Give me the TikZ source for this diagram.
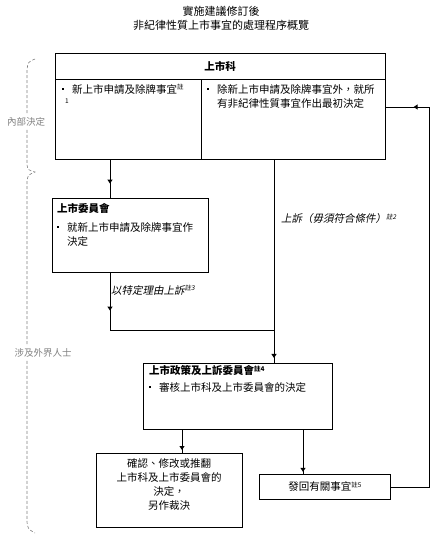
\documentclass[tikz,border=0pt]{standalone}
\usepackage{fontspec}
\setmainfont{Noto Sans CJK TC}
\newfontfamily\slantfont[FakeSlant=0.2]{Noto Sans CJK TC}
\usepackage{tikz}
\usetikzlibrary{arrows.meta, decorations.markings, positioning}

\newcommand{\zhu}[1]{\raisebox{0.55ex}{\fontsize{6.5}{7}\selectfont 註#1}}
\newcommand{\sqbullet}{\makebox[10pt][l]{\raisebox{0.3em}{\rule{2.2pt}{2.2pt}}}}

\begin{document}
\begin{tikzpicture}[x=1pt, y=-1pt, >={Triangle[length=4pt, width=5pt]}, font=\fontsize{10.5}{14}\selectfont]
  % Set the styles
  \tikzset{
    box/.style={draw, line width=1pt, anchor=north west, inner sep=0pt},
    boxtext/.style={anchor=north west, inner sep=0pt, align=left},
    link/.style={line width=1pt},
    midarrow/.style={postaction={decorate, decoration={markings, mark=at position #1 with {\arrow{>}}}}},
    sidenote/.style={text=gray, font=\fontsize{9.5}{11}\selectfont},
    brace/.style={draw=gray, line width=0.6pt, dash pattern=on 3pt off 2pt}
  }
  \useasboundingbox (0,0) rectangle (442,546);

  % Title
  \node[font=\fontsize{11}{13}\selectfont] (title1) at (221,11) {實施建議修訂後};
  \node[font=\fontsize{11}{13}\selectfont] (title2) at (221,25) {非紀律性質上市事宜的處理程序概覽};

  % Listing division
  \node[box, minimum width=330pt, minimum height=106pt] (listing) at (55,53) {};
  \draw[link] (55,79) -- (385,79);
  \draw[link] (201,79) -- (201,159);
  \node[font=\fontsize{10.5}{14}\selectfont\bfseries] (listtitle) at (220,66) {上市科};
  \node[boxtext] (listleft) at (62,84) {\sqbullet 新上市申請及除牌事宜\zhu{}\\\hspace*{3pt}\raisebox{0.55ex}{\fontsize{6.5}{7}\selectfont 1}};
  \node[boxtext] (listright) at (207,84) {\sqbullet 除新上市申請及除牌事宜外，就所\\\hspace*{10pt}有非紀律性質事宜作出最初決定};

  % Listing committee
  \node[box, minimum width=156pt, minimum height=74pt] (lc) at (52,198) {};
  \node[boxtext, font=\fontsize{10.5}{14}\selectfont\bfseries] (lctitle) at (57,203) {上市委員會};
  \node[boxtext] (lcbody) at (57,222) {\sqbullet 就新上市申請及除牌事宜作\\\hspace*{10pt}決定};

  % Listing (review) committee
  \node[box, minimum width=189pt, minimum height=66pt] (appeal) at (143,363) {};
  \node[boxtext, font=\fontsize{10.5}{14}\selectfont\bfseries] (appealtitle) at (149,365) {上市政策及上訴委員會\zhu{4}};
  \node[boxtext] (appealbody) at (149,382) {\sqbullet 審核上市科及上市委員會的決定};

  % Outcomes
  \node[box, minimum width=146pt, minimum height=74pt] (confirm) at (96,453) {};
  \node[align=center, inner sep=0pt] (confirmtext) at (169,484) {確認、修改或推翻\\上市科及上市委員會的\\決定，\\另作裁決};
  \node[box, minimum width=131pt, minimum height=25pt] (remit) at (259,474) {};
  \node[inner sep=0pt] (remittext) at (325,487) {發回有關事宜\zhu{5}};

  % Columns of the connectors
  \coordinate (colA) at (110,0);
  \coordinate (colB) at (274,0);
  \coordinate (colC) at (182,0);
  \coordinate (colD) at (303,0);
  \coordinate (colE) at (429,0);
  \coordinate (joinpt) at (274,330);
  \coordinate (backpt) at (0,107);

  % Connect the boxes
  \draw[link, midarrow=0.62] (listing.south -| colA) -- (lc.north -| colA);
  \draw[link, midarrow=0.66] (lc.south -| colA) -- (colA |- joinpt);
  \draw[link] (colA |- joinpt) -- (joinpt);
  \draw[link, midarrow=0.975] (listing.south -| colB) -- (appeal.north -| colB);
  \draw[link, midarrow=0.87] (appeal.south -| colC) -- (confirm.north -| colC);
  \draw[link, midarrow=0.95] (appeal.south -| colD) -- (remit.north -| colD);
  \draw[link, midarrow=0.94] (remit.east) -- (remit.east -| colE) -- (colE |- backpt) -- (listing.east |- backpt);

  % Connector labels
  \node[anchor=west, inner sep=0pt, font=\fontsize{10.5}{14}\slantfont] (lclabel) at (111,290) {以特定理由上訴\zhu{3}};
  \node[anchor=west, inner sep=0pt, font=\fontsize{10.5}{14}\slantfont] (mainlabel) at (281,219) {上訴（毋須符合條件）\zhu{2}};

  % Side braces
  \node[sidenote] (internal) at (26,122) {內部決定};
  \node[sidenote] (external) at (43,353) {涉及外界人士};
  \draw[brace] (35,59) .. controls (28,62) .. (27,70) -- (internal.north -| 27,0);
  \draw[brace] (internal.south -| 27,0) -- (27,165) .. controls (28,170) .. (35,172) .. controls (28,175) .. (27,181) -- (external.north -| 27,0);
  \draw[brace] (external.south -| 27,0) -- (27,522) .. controls (28,529) .. (35,533);
\end{tikzpicture}
\end{document}
